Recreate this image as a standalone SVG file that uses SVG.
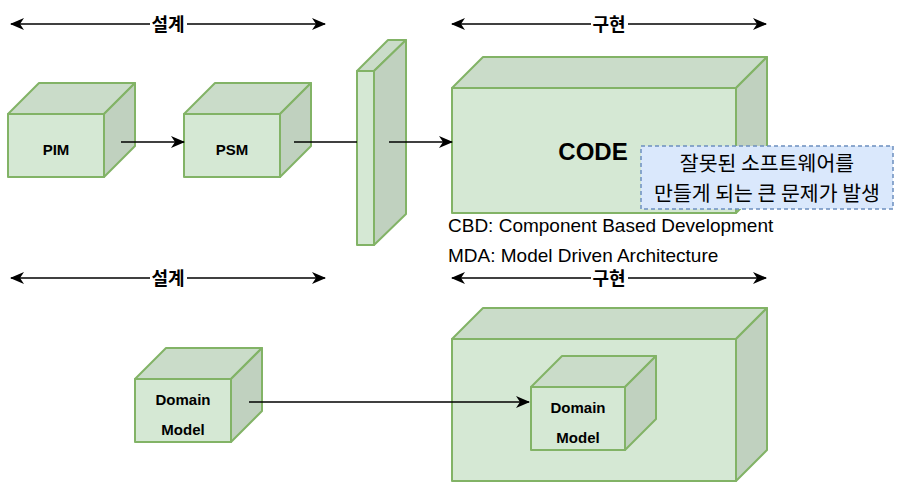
<svg xmlns="http://www.w3.org/2000/svg" width="899" height="497" viewBox="0 0 899 497">
<defs>
<marker id="ah" markerUnits="userSpaceOnUse" markerWidth="14" markerHeight="14" viewBox="0 0 14 14" refX="13" refY="7" orient="auto-start-reverse">
<path d="M0,1 L14,7 L0,13 L4,7 z" fill="#000"/>
</marker>
</defs>
<style>
.front{fill:#d5e8d4;stroke:#82b366;stroke-width:2;stroke-linejoin:round}
.top{fill:#cadcc9;stroke:#82b366;stroke-width:2;stroke-linejoin:round}
.side{fill:#c0d1bf;stroke:#82b366;stroke-width:2;stroke-linejoin:round}
.lbl{font-family:"Liberation Sans",Arial,sans-serif;font-weight:bold;font-size:15px;fill:#000;text-anchor:middle}
.kr{font-family:"Noto Sans CJK KR","Noto Sans",sans-serif;font-weight:bold;font-size:18px;fill:#000;text-anchor:middle}
.note{font-family:"Noto Sans CJK KR","Noto Sans",sans-serif;font-size:20.5px;fill:#000;text-anchor:middle}
.plain{font-family:"Liberation Sans",Arial,sans-serif;font-size:19px;fill:#000}
.conn{stroke:#000;stroke-width:1.5;fill:none}
</style>
<rect width="899" height="497" fill="#fff"/>

<g id="pim">
<rect class="front" x="8" y="114" width="96" height="63"/>
<polygon class="top" points="8,114 39,83 135,83 104,114"/>
<polygon class="side" points="104,114 135,83 135,146 104,177"/>
<text class="lbl" x="56" y="155">PIM</text>
</g>
<g id="psm">
<rect class="front" x="184" y="114" width="96" height="63"/>
<polygon class="top" points="184,114 215,83 311,83 280,114"/>
<polygon class="side" points="280,114 311,83 311,146 280,177"/>
<text class="lbl" x="232" y="155">PSM</text>
</g>
<g id="slab">
<rect class="front" x="357" y="71" width="17" height="174"/>
<polygon class="top" points="357,71 388,40 406,40 374,71"/>
<polygon class="side" points="374,71 406,40 406,214 374,245"/>
</g>
<g id="code">
<rect class="front" x="452" y="88" width="284" height="125"/>
<polygon class="top" points="452,88 483,57 767,57 736,88"/>
<polygon class="side" points="736,88 767,57 767,182 736,213"/>
<text class="lbl" x="593" y="160" style="font-size:24px">CODE</text>
</g>
<g id="note">
<rect x="641" y="146" width="252" height="63" fill="#dae8fc" stroke="#6c8ebf" stroke-width="1.5" stroke-dasharray="4 3"/>
<text class="note" x="767" y="171">잘못된 소프트웨어를</text>
<text class="note" x="767" y="201">만들게 되는 큰 문제가 발생</text>
</g>
<g id="cbd"><text class="plain" x="448" y="232">CBD: Component Based Development</text></g>
<g id="mda"><text class="plain" x="448" y="262">MDA: Model Driven Architecture</text></g>

<g id="domain-left">
<rect class="front" x="135" y="379" width="96" height="63"/>
<polygon class="top" points="135,379 166,348 262,348 231,379"/>
<polygon class="side" points="231,379 262,348 262,411 231,442"/>
<text class="lbl" x="183" y="405">Domain</text>
<text class="lbl" x="183" y="435">Model</text>
</g>
<g id="code-bottom">
<rect class="front" x="452" y="339" width="284" height="142"/>
<polygon class="top" points="452,339 483,308 767,308 736,339"/>
<polygon class="side" points="736,339 767,308 767,450 736,481"/>
</g>
<g id="domain-inner">
<rect class="front" x="531" y="387" width="94" height="63"/>
<polygon class="top" points="531,387 562,356 656,356 625,387"/>
<polygon class="side" points="625,387 656,356 656,419 625,450"/>
<text class="lbl" x="578" y="413">Domain</text>
<text class="lbl" x="578" y="443">Model</text>
</g>

<g id="connectors">
<line class="conn" x1="121" y1="142" x2="184" y2="142" marker-end="url(#ah)"/>
<line class="conn" x1="294" y1="142" x2="357" y2="142"/>
<line class="conn" x1="389" y1="142" x2="452" y2="142" marker-end="url(#ah)"/>
<line class="conn" x1="249" y1="402" x2="529" y2="402" marker-end="url(#ah)"/>
<line class="conn" x1="11" y1="24" x2="325" y2="24" marker-start="url(#ah)" marker-end="url(#ah)"/>
<line class="conn" x1="452" y1="24" x2="766" y2="24" marker-start="url(#ah)" marker-end="url(#ah)"/>
<line class="conn" x1="11" y1="278" x2="325" y2="278" marker-start="url(#ah)" marker-end="url(#ah)"/>
<line class="conn" x1="452" y1="278" x2="766" y2="278" marker-start="url(#ah)" marker-end="url(#ah)"/>
</g>
<g id="labels">
<rect x="150" y="14" width="37" height="20" fill="#fff"/>
<text class="kr" x="168" y="31">설계</text>
<rect x="591" y="14" width="37" height="20" fill="#fff"/>
<text class="kr" x="609" y="31">구현</text>
<rect x="150" y="268" width="37" height="20" fill="#fff"/>
<text class="kr" x="168" y="285">설계</text>
<rect x="591" y="268" width="37" height="20" fill="#fff"/>
<text class="kr" x="609" y="285">구현</text>
</g>
</svg>
